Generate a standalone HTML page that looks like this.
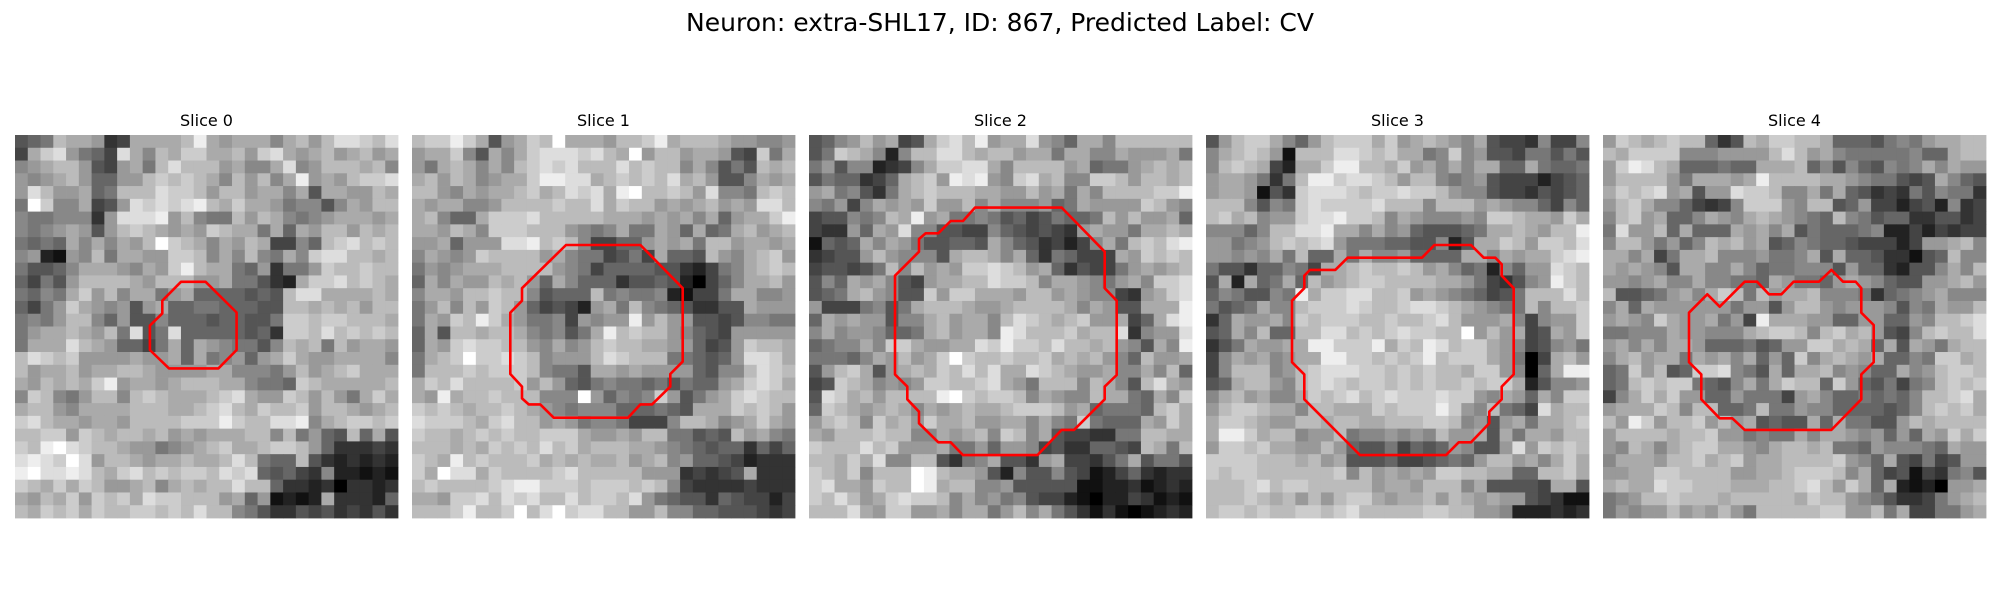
<!DOCTYPE html>
<html><head><meta charset="utf-8">
<style>
html,body{margin:0;padding:0;background:#fff;}
svg{display:block;}
text{font-family:"DejaVu Sans","Liberation Sans",sans-serif;fill:#000;}
</style></head>
<body>
<svg id="fig" width="2000" height="600" viewBox="0 0 2000 600">
<rect x="0" y="0" width="2000" height="600" fill="#fff"/>
<text x="1000" y="31" font-size="25" text-anchor="middle">Neuron: extra-SHL17, ID: 867, Predicted Label: CV</text>
<g id="panels"></g>
</svg>
<script>
const sliceTitles = ["Slice 0","Slice 1","Slice 2","Slice 3","Slice 4"];
const slice0 = ["567ba a934a aaabe a9aaa 8ab9b ddcbd","4acd9 764da 8bacc aab9c da9ab 9ab9a","89abb 9549a 7bdbb b9a88 ad89b bbab8","989ab 96699 bcbcb a8b9b 8ae9a 9bccd","9db99 a67bb bdccb 9bb9a a8a5a a99ba","7fc88 a459d cdcde bacaa 97885 8a9bb","87788 839dd de9b8 77b9b a8789 aaa9a","8789a 959bc ba9a9 cbaa7 a6a9b b9bab","7676a 8a8a9 bfcba 8a9ba 4486b cdbcb","89219 8b7aa 99ccb 8a8b8 7a8cd dbbab","75568 aaa98 a9ceb aa769 3779c bbcbb","64759 bbbba 9bbb9 9a775 32acc dbcba","7687a c9b8a a79a6 66656 5bdda aaaba","6479c a9895 9a667 76665 5bbab ab9bb","7879b b8695 58666 56655 7ccbc cbbba","79aab a9b7d 57d66 66656 3ccbd bcbcb","7aaad ba966 47a6a 98775 8bab7 b9aa9","bdcbc 9999a 99a6a 78969 aca99 aaaa8","b9aab 9aabb a9999 aa888 79b9a bcaaa","a9bab ace9a a9abb baa87 76cba aaaab","8cb87 9bb8b cbaaa bcda9 9cb9b 97aca","abb98 aaaab bbaab cdbac bbc9b ba9ab","cdbaa 9aa9b bbbcc cecbb dde8a bccbc","bbcc9 cbabb ab9a9 aaabb 8b796 5b6a5","cbefd cbba9 9789a bcaab ccb96 33343","dedcf d9bba 9aaba abdb7 66b53 23232","efdde dbacd bcbcc bdcd6 56438 22121","cbaca cb99a b8aba bbdbb 63323 03323","a9bac 9cbca dccbb b9a69 1212a 33326","bacbc acbbc cbcbd bb875 33545 34353"];
const slice1 = ["bccec a59ac bfaaa 9bbce abbba 99889","9aac8 5a8ac dddcd baf9b b9aa9 54c7a","97aba 8a8bc dcdbb bdbcb b8a85 75bab","ab9ba 89aac eedda bcbcb dab95 58a9a","bb98a 9aabc abdcd aefbb cb9d8 87bcb","a9aa8 89bbb bcbbd acbb9 a9ab9 a9ddb","ab866 acccd bbbbb aaa9a 9a8a6 9aace","aa9ba 8cccb bb987 8a77a 96a67 ab9ab","99a69 99dde bcb84 4669a 9a7bb 9aa9a","8a989 cbbbb 9a877 4574a 665b9 8abc9","7989a aabbb b9874 66665 53247 8abcb","6a8a9 9bab9 6a866 63556 52046 8aab9","8aa9b bcbb8 5666b 78778 21447 aa889","79b8b 9cb96 45429 a7b87 65335 5a999","7a9cb eca97 78498 99e9b 99554 58877","6a5bb abba8 7857a ebcbb 98654 99999","6a9cd ccbb9 8a89b cbbaa 99645 9cbba","7abcf ccdcb 8999b dcbbb 77656 9ddca","7bbbc bcccb 8775a a9a99 99658 8bdcb","acbdb bbbc9 b9657 87767 57669 acdca","a9eab bcbbb 888f9 6878c 9579a cdcbb","cbcba bbcba 98788 86667 65aaa cbcb9","dcccb acdbb 9a978 87444 8bba8 9aca9","cbbab cbcbb ccca9 9a9bb 77565 b9a87","bbbab acbcb dbcab bbaa9 87656 63646","cbaeb cbbbc ababa ab9ab 89665 42333","cafdd acbbb bcdbb bbb99 93434 5a333","bcbbb bcdee cccbc ccbcb 84333 34333","aa9cc dbdcd bbdbc cbd97 65536 54424","bbbce bbcfb dfcdd bb99b 88665 55434"];
const slice2 = ["5689b 9a45a cdbe9 aad98 6aa8b bbbbb","57cba 828bb ddbab b9aa7 aa88a 999a7","79588 2348a ccdda 8bbbb 9a677 9abab","57663 46abc 9ede9 8cdab 88ccb 9bbab","9a785 37abc bbbaa 99b9a 7a8bb bbcce","87948 a9a9c 99b8a 88896 7a999 9cb98","45587 8bae9 a7787 56457 667b9 b99a6","43396 a9d88 55448 65454 39a99 7aaba","1656a 8a975 5665a 86534 248a7 bcbde","34559 b9888 5abba 8a637 6444a 9cbcb","45545 7b8b9 a9ccd cb9a6 35447 9a9ab","586a9 a8549 aabbd ccb8a a9879 a8ccd","567ab 9855c 9ccaa a9bb9 a9884 39acd","94447 857ab bba99 abbbb a8a95 5aaae","6a9a9 9588a b9aa8 bdcba bc99a 46ade","8a899 8667a b9aa8 edbbb cabbd 3899d","6788a 8cca9 9aadc eccbd bbab9 85a8e","77768 a9b9a cfcbb cbbca bab98 6b99a","59bca 59aba cbdbd aadcb a99a8 8a8b6","45cba 8989c cbbcd a97bb b8ba8 5bda9","5dcab 9bbbb efcbc cb8a9 88baa 76a8c","6cba9 aba8a 9abaa bcccb 9a677 76bca","9bcb8 cab9c aab99 aa8a8 7c766 6a9ca","a9bbb cbb88 a9ab8 cb8a5 44337 7bbaa","cbbbd bc999 a7796 99845 33665 4ba7b","bbaca d88bb 5378a 5539a 44357 a5775","cbac8 bbbfe baa95 28558 54124 63233","cdaa9 cbbfe abb88 95555 51122 31232","cbdb9 acdcc b8a89 78544 21022 43121","bbbda 9cc99 a8aa7 9b8a7 53131 01232"];
const slice3 = ["59bcc a869b cccac 9aba9 8a544 38448","8abcb 91bbb ddcbc aa78c 89554 77575","8bcba 42aac eebba c9a8a 8aa66 a7667","9aa97 37bee cddcb 9bb87 89544 42456","9aa91 53cdd dcbcc dccb9 88544 35456","bbb85 87cdc cccdb bb8bb b9a98 86486","bcab8 99cdd eccb8 a9888 98ccb aa9ca","88868 bbdde aa8a8 96555 67aab a9bbe","99789 bcbcd 97776 65582 5aacb 9ccbd","99898 a7b66 a7a88 96666 aa8a9 aacde","75536 6874a abcbb cb9a8 67286 99dcb","5a2a6 7a6b9 abccb bbbaa 97435 89ecb","68755 87eac cddbb c9a98 76457 bbbdb","7567a 88bcc cdcbb cddcb a9877 b8bbc","36a99 a8cbc ccbbc bbcdb 999a8 4899c","56a8b 66bbd dbcbc dccbb f9b9a 45a9c","357a9 9aaee cccea cbedb cca98 45897","48a9a 89aae eccbc bcebc cca97 04ab9","48bbb 89bcd ddccb cbcbb acc98 06aee","56abb 98bcd cbccb cbcbb cbcca 25889","8ab9a 88acb cdbcd cccdc c98a9 6a8cc","9bccb aa8bb aaacb cccec 98b76 4dabb","accba 99bba bbaab bbccb 8959a 7aabc","aeeca bb899 b7889 898b9 9a5a7 aa9bb","9ccbc aa99b 96557 46569 8559d 9cbcb","ccccb bbab9 a5556 44567 69bb9 a8aca","cbccb bbbbb c8b9a 9a9cc bbaa6 6bbca","bbbcd bccbb bbb9a a9bbb 8a555 54aa5","bbbcb ab9b9 bcca9 aab9b a9a99 54311","bccbc bbccb cdbbb bbccb b9982 22323"];
const slice4 = ["9cbab cbb63 5bacc bba66 65787 9aabb","baccc c8889 999bd b9a87 77778 66abb","9cedb a6667 66aaa b6858 65878 a8a99","9bbbb 97aaa 9aebb bbaa9 87754 5a865","acbcd 9a599 dccb8 8a7a6 53437 58773","9bca8 86434 8ccc9 8bb56 94424 52834","8bc9a 668a9 8aba9 876b8 75663 35534","7d99b 6a666 a9a8a 57666 78224 24344","8bb97 968ba b9a56 87665 44424 99ab8","aa8a4 7aab8 88977 8a5a6 65331 56b88","a9a98 5aa88 a8677 88859 66325 58a8b","9989a 88a88 776a9 7769a 98655 99ab9","b5567 9a8ac b7b9a ab888 73678 9a888","8a6a9 99999 79959 bb989 99858 7a99b","9a98c a99a7 94eaa a9966 99669 8bbcd","77888 a9988 8abcc b8bca b9548 bcbbd","9a8a8 aa966 67569 9ccab a6a5a 97abb","8ab9a a7a9a 8a696 c8aba 9a668 7ccab","67c9b 56ccd 875a6 aab89 866a8 9bccb","67bcb cc765 8a7ac bb6c9 65747 8bcbc","48aca c9966 97774 9a866 76768 bbcda","9aaac b8bb6 67b77 98866 66568 bcbca","b9ec9 bbc9b 9a565 5a6a7 7559b abbbb","9bbbb abbc9 97877 a8aa9 89696 a9cac","98ba8 abcca a98ab bab77 69888 76a99","8aaa9 bbcab c9aab bbbc9 86a54 74599","99aac cbbbb 99aab cccb8 a6451 43785","abaad ccbbb aaabb cdb9c a6a21 2099a","789bb cbbba bbbbb acbb9 87533 479ab","79899 b9a9b 97bbb bbcc9 9b7a4 4779a"];
const contour0 = [[13.0,11.5],[14.93,11.5],[17.36,13.9],[17.36,16.84],[15.93,18.28],[12.06,18.28],[10.57,16.84],[10.57,14.93],[11.54,13.97],[11.54,12.98]];
const contour1 = [[12.06,8.62],[17.89,8.62],[21.2,12.0],[21.2,17.75],[20.23,18.72],[20.23,19.71],[18.8,21.1],[17.89,21.1],[16.92,22.14],[11.1,22.14],[10.05,21.1],[9.14,21.1],[8.62,20.63],[8.62,19.71],[7.7,18.72],[7.7,13.92],[8.62,12.98],[8.62,12.0]];
const contour2 = [[13.0,5.69],[19.79,5.69],[23.16,9.14],[23.16,12.0],[24.1,12.98],[24.1,18.8],[23.16,19.71],[23.16,20.7],[20.76,23.1],[19.79,23.1],[17.89,25.07],[12.06,25.07],[11.1,24.07],[10.13,24.07],[8.62,22.58],[8.62,21.67],[7.7,20.7],[7.7,19.71],[6.74,18.75],[6.74,11.02],[8.62,9.14],[8.62,8.15],[9.14,7.7],[10.13,7.7],[11.1,6.74],[12.06,6.74]];
const contour3 = [[11.1,9.61],[16.92,9.61],[17.89,8.62],[20.76,8.62],[21.75,9.61],[22.66,9.61],[23.16,10.13],[23.16,11.02],[24.1,12.0],[24.1,18.75],[23.16,19.71],[23.16,20.7],[22.19,21.67],[22.19,22.58],[20.76,24.07],[19.79,24.07],[18.8,25.07],[12.06,25.07],[7.7,20.7],[7.7,18.75],[6.74,17.8],[6.74,12.98],[7.7,12.0],[7.7,11.02],[8.15,10.57],[10.13,10.57]];
const contour4 = [[6.74,13.92],[8.17,12.48],[9.14,13.45],[11.1,11.49],[12.06,11.49],[13.0,12.48],[13.97,12.48],[14.93,11.49],[16.92,11.49],[17.89,10.57],[18.8,11.49],[19.79,11.49],[20.23,12.0],[20.23,13.92],[21.2,14.88],[21.2,17.8],[20.23,18.75],[20.23,20.7],[17.89,23.1],[11.1,23.1],[10.13,22.19],[9.14,22.19],[7.7,20.7],[7.7,18.75],[6.74,17.8]];

const slices = [slice0,slice1,slice2,slice3,slice4];
const contours = [contour0,contour1,contour2,contour3,contour4];
const NS = "http://www.w3.org/2000/svg";
const N = 30, PW = 383, PY = 135, X0 = 15, GAP = 397;
const cell = PW / N;
function xScale(p, c){ return X0 + p*GAP + c*cell; }
function yScale(r){ return PY + r*cell; }
const root = document.getElementById('panels');
slices.forEach((rows, p) => {
  const g = document.createElementNS(NS,'g');
  
  
  root.appendChild(g);
  const t = document.createElementNS(NS,'text');
  t.setAttribute('x', xScale(p, N/2));
  t.setAttribute('y', 126);
  t.setAttribute('font-size', '16');
  t.setAttribute('text-anchor', 'middle');
  t.textContent = sliceTitles[p];
  
  
  g.appendChild(t);
  rows.forEach((rowStr, r) => {
    let s = rowStr.replace(/\s+/g,'');
    while (s.length < N) s += s[s.length-1];
    for (let c = 0; c < N; c++) {
      const v = parseInt(s[c],16) * 17;
      const rect = document.createElementNS(NS,'rect');
      rect.setAttribute('x', xScale(p,c));
      rect.setAttribute('y', yScale(r));
      rect.setAttribute('width', cell + 0.4);
      rect.setAttribute('height', cell + 0.4);
      rect.setAttribute('fill', 'rgb(' + v + ',' + v + ',' + v + ')');
      
      
      g.appendChild(rect);
    }
  });
  const pts = contours[p].map(q => xScale(p,q[0]).toFixed(1) + ',' + yScale(q[1]).toFixed(1)).join(' ');
  const poly = document.createElementNS(NS,'polygon');
  poly.setAttribute('points', pts);
  poly.setAttribute('fill', 'none');
  poly.setAttribute('stroke', '#ff0000');
  poly.setAttribute('stroke-width', '2.6');
  poly.setAttribute('stroke-linejoin', 'round');
  
  
  g.appendChild(poly);
});
</script>
</body></html>
